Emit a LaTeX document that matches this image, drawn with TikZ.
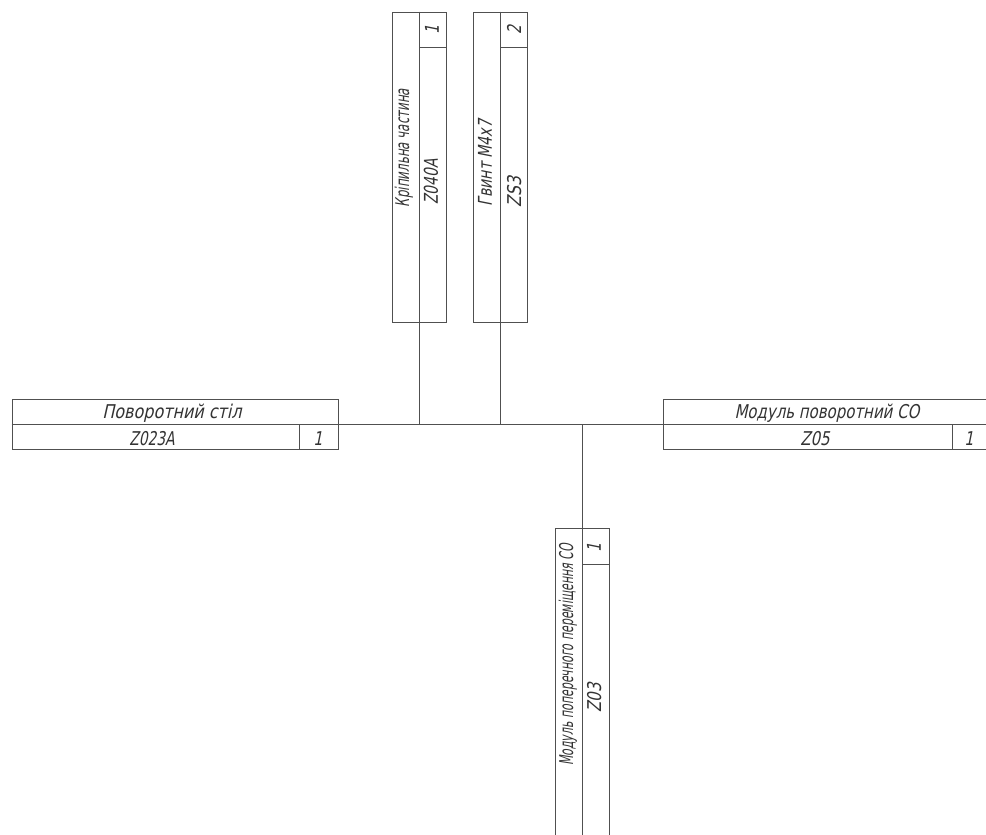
\documentclass[tikz,border=0pt]{standalone}
\usepackage{fontspec}
\newfontfamily\gostfont{DejaVu Sans}[FakeStretch=0.75, FakeSlant=0.2]
\usepackage{tikz}
\usetikzlibrary{positioning}
\definecolor{liniya}{HTML}{505050}
\definecolor{tekst}{HTML}{333333}
\tikzset{
  ramka/.style={draw=liniya, line width=1pt, inner sep=0pt},
  zv/.style={draw=liniya, line width=1pt},
  napys/.style={font=\gostfont\fontsize{19}{19}\selectfont, text=tekst, inner sep=0pt},
  vnapys/.style={napys, rotate=90},
}

\begin{document}
\begin{tikzpicture}[x=1pt, y=-1pt]
    \clip (0,0) rectangle (986,835);
    \useasboundingbox (0,0) rectangle (986,835);
    % boxes
    \node[ramka, minimum width=326pt, minimum height=50pt] (stil) at (175,424) {};
    \node[ramka, minimum width=326pt, minimum height=50pt] (modpov) at (826,424) {};
    \node[ramka, minimum width=54pt, minimum height=310pt] (kripl) at (419,167) {};
    \node[ramka, minimum width=54pt, minimum height=310pt] (gvynt) at (500,167) {};
    \node[ramka, minimum width=54pt, minimum height=310pt] (modpp) at (582,683) {};
    % inner lines
    \draw[zv] (stil.west) -- (stil.east);
    \draw[zv] ([xshift=-39pt]stil.south east) -- ([xshift=-39pt]stil.east);
    \draw[zv] (modpov.west) -- (modpov.east);
    \draw[zv] ([xshift=-37pt]modpov.south east) -- ([xshift=-37pt]modpov.east);
    \draw[zv] (kripl.north) -- (kripl.south);
    \draw[zv] ([yshift=-36pt]kripl.north) -- ([yshift=-36pt]kripl.north east);
    \draw[zv] (gvynt.north) -- (gvynt.south);
    \draw[zv] ([yshift=-36pt]gvynt.north) -- ([yshift=-36pt]gvynt.north east);
    \draw[zv] (modpp.north) -- (modpp.south);
    \draw[zv] ([yshift=-37pt]modpp.north) -- ([yshift=-37pt]modpp.north east);
    % connectors
    \draw[zv] (stil.east) -- (modpov.west);
    \draw[zv] (kripl.south) -- (kripl.south |- stil.east);
    \draw[zv] (gvynt.south) -- (gvynt.south |- stil.east);
    \draw[zv] (modpp.north) -- (modpp.north |- stil.east);
    % texts
    \node[napys, xscale=1.12] (stilnazva) at (172,413) {Поворотний стіл};
    \node[napys, xscale=0.97] (stilkod) at (152,439) {Z023A};
    \node[napys] (stilk) at (318,439) {1};
    \node[napys, xscale=1.05] (modpovnazva) at (827,413) {Модуль поворотний СО};
    \node[napys, xscale=1.05] (modpovkod) at (815,439) {Z05};
    \node[napys] (modpovk) at (969,439) {1};
    \node[vnapys, xscale=0.83] (kriplnazva) at (404,148) {Кріпильна частина};
    \node[vnapys, xscale=0.97] (kriplkod) at (431,182) {Z040A};
    \node[vnapys] (kriplk) at (432,30) {1};
    \node[vnapys, xscale=0.99] (gvyntnazva) at (485,163) {Гвинт М4х7};
    \node[vnapys, xscale=1.1] (gvyntkod) at (515,192) {ZS3};
    \node[vnapys] (gvyntk) at (514,30) {2};
    \node[vnapys, xscale=0.77] (modppnazva) at (568,655) {Модуль поперечного переміщення СО};
    \node[vnapys, xscale=1.05] (modppkod) at (595,698) {Z03};
    \node[vnapys] (modppk) at (594,548) {1};
  \end{tikzpicture}
\end{document}
